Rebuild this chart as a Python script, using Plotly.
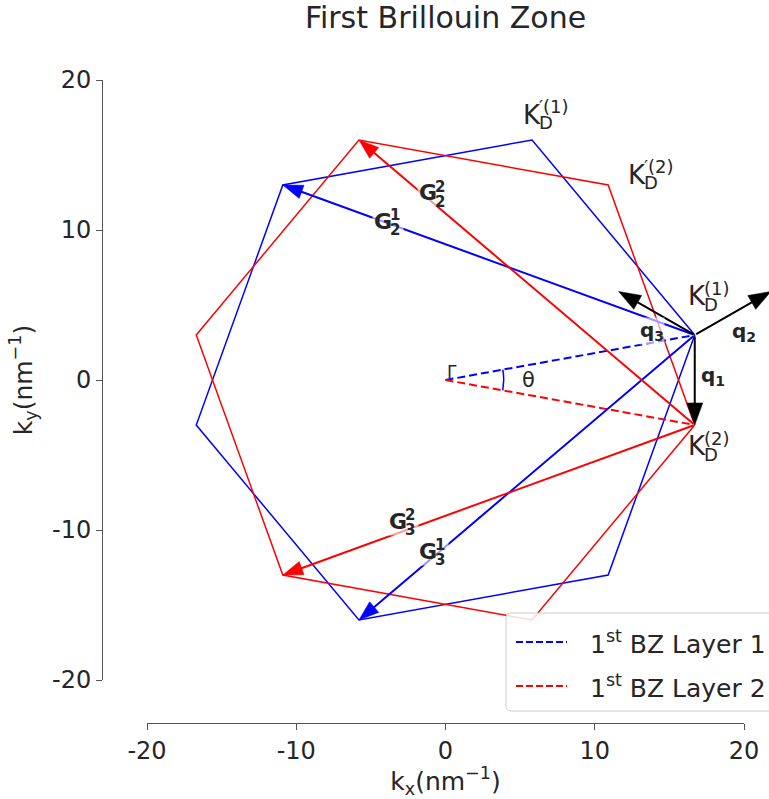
import plotly.graph_objects as go
import numpy as np

# ---- data ----
hex1_x = [16.7, 5.8, -10.9, -16.7, -5.8, 10.9, 16.7]
hex1_y = [3.0, 16.0, 13.0, -3.0, -16.0, -13.0, 3.0]
hex2_x = [16.7, 10.9, -5.8, -16.7, -10.9, 5.8, 16.7]
hex2_y = [-3.0, 13.0, 16.0, 3.0, -13.0, -16.0, -3.0]

gamma = (0.0, 0.0)
K1 = (16.7, 3.0)
K2 = (16.7, -3.0)

# arrows: (start, end, colour)
G_arrows = [
    ((16.7, 3.0), (-10.9, 13.0), "blue"),
    ((16.7, 3.0), (-5.8, -16.0), "blue"),
    ((16.7, -3.0), (-5.8, 16.0), "red"),
    ((16.7, -3.0), (-10.9, -13.0), "red"),
]
q_arrows = [
    ((16.7, 3.0), (16.7, -3.0), "black"),
    ((16.7, 3.0), (21.8, 5.9), "black"),
    ((16.7, 3.0), (11.6, 5.9), "black"),
]

theta_arc_r = 3.9
theta_arc_deg = [-10.2, -5, 0, 5, 10.2]

legend_names = ["1<sup>st</sup> BZ Layer 1", "1<sup>st</sup> BZ Layer 2"]

tick_vals = [-20, -10, 0, 10, 20]
tick_text = ["-20", "-10", "0", "10", "20"]

# labels with stacked sub/superscripts: (x, y, main, sub, sup)
K_labels = [
    (5.13, 17.67, "K", "D", "′(1)"),
    (12.16, 13.67, "K", "D", "′(2)"),
    (16.18, 5.57, "K", "D", "(1)"),
    (16.18, -4.40, "K", "D", "(2)"),
]
G_labels = [
    (-4.92, 10.57, "G", "2", "1"),
    (-1.91, 12.50, "G", "2", "2"),
    (-3.92, -9.43, "G", "3", "2"),
    (-1.91, -11.40, "G", "3", "1"),
]
q_labels = [
    (13.84, 3.27, "q", "3"),
    (19.97, 3.20, "q", "2"),
    (17.92, 0.27, "q", "1"),
]
greek_labels = [
    (0.44, 0.53, "Γ", 17),
    (5.56, 0.03, "θ", 21),
]

FONT = "DejaVu Sans"
TXT = "#262626"

W, H = 769, 799
L, R, T, B = 102, 0, 80, 76
pw = W - L - R
ph = H - T - B
XR = (-20, 20)
YR = (-20, 20)
PLOT_X = (147, 744)
PLOT_Y = (80, 680)


def px(xp):
    return (xp - L) / pw


def py(yp):
    return (H - B - yp) / ph


def xpix(x):
    return PLOT_X[0] + (x - XR[0]) / (XR[1] - XR[0]) * (PLOT_X[1] - PLOT_X[0])


def ypix(y):
    return PLOT_Y[1] - (y - YR[0]) / (YR[1] - YR[0]) * (PLOT_Y[1] - PLOT_Y[0])


fig = go.Figure()

fig.add_trace(go.Scatter(x=hex1_x, y=hex1_y, mode="lines",
                         line=dict(color="blue", width=1.5), showlegend=False, hoverinfo="skip"))
fig.add_trace(go.Scatter(x=hex2_x, y=hex2_y, mode="lines",
                         line=dict(color="red", width=1.5), showlegend=False, hoverinfo="skip"))

fig.add_trace(go.Scatter(x=[gamma[0], K1[0]], y=[gamma[1], K1[1]], mode="lines",
                         line=dict(color="blue", width=2, dash="8px,4px"), name=legend_names[0],
                         showlegend=False))
fig.add_trace(go.Scatter(x=[gamma[0], K2[0]], y=[gamma[1], K2[1]], mode="lines",
                         line=dict(color="red", width=2, dash="8px,4px"), name=legend_names[1],
                         showlegend=False))

ang = np.radians(theta_arc_deg)
fig.add_trace(go.Scatter(x=theta_arc_r * np.cos(ang), y=theta_arc_r * np.sin(ang), mode="lines",
                         line=dict(color="blue", width=1.5), showlegend=False, hoverinfo="skip"))

# arrows: shaft as annotation line (not clipped), head as a filled triangle path
for (s, e, col), hl, hw in [(a, 20, 7) for a in G_arrows] + [(a, 22, 8) for a in q_arrows]:
    fig.add_annotation(x=e[0], y=e[1], ax=s[0], ay=s[1], xref="x", yref="y", axref="x", ayref="y",
                       showarrow=True, text="", arrowhead=0, arrowwidth=2, arrowcolor=col,
                       standoff=hl - 6)
    sx, sy = xpix(s[0]), ypix(s[1])
    ex, ey = xpix(e[0]), ypix(e[1])
    d = np.array([ex - sx, ey - sy])
    d /= np.linalg.norm(d)
    n = np.array([-d[1], d[0]])
    bx, by = ex - d[0] * hl, ey - d[1] * hl
    p1 = (bx + n[0] * hw, by + n[1] * hw)
    p2 = (bx - n[0] * hw, by - n[1] * hw)
    path = (f"M{px(ex)},{py(ey)} L{px(p1[0])},{py(p1[1])} "
            f"L{px(p2[0])},{py(p2[1])} Z")
    fig.add_shape(type="path", xref="paper", yref="paper", path=path,
                  fillcolor=col, line=dict(color=col, width=0.5), layer="above")

# K labels
for x, y, m, sb, sp in K_labels:
    fig.add_annotation(x=x, y=y, xref="x", yref="y", text=m, showarrow=False,
                       xanchor="left", yanchor="middle", borderpad=0,
                       font=dict(family=FONT, size=26, color=TXT))
    fig.add_annotation(x=x, y=y, xref="x", yref="y", text=sp, showarrow=False,
                       xanchor="left", yanchor="middle", xshift=16, yshift=8, borderpad=0,
                       font=dict(family=FONT, size=18, color=TXT))
    fig.add_annotation(x=x, y=y, xref="x", yref="y", text=sb, showarrow=False,
                       xanchor="left", yanchor="middle", xshift=16, yshift=-8, borderpad=0,
                       font=dict(family=FONT, size=18, color=TXT))

# G labels (bold, with translucent box)
for x, y, m, sb, sp in G_labels:
    fig.add_annotation(x=x, y=y, xref="x", yref="y", text="<b>" + m + "</b>", showarrow=False,
                       xanchor="left", yanchor="middle", align="left", width=28, borderpad=1,
                       bgcolor="rgba(255,255,255,0.6)",
                       font=dict(family=FONT, size=22, color=TXT))
    fig.add_annotation(x=x, y=y, xref="x", yref="y", text="<b>" + sp + "</b>", showarrow=False,
                       xanchor="left", yanchor="middle", xshift=17, yshift=6, borderpad=0,
                       font=dict(family=FONT, size=15, color=TXT))
    fig.add_annotation(x=x, y=y, xref="x", yref="y", text="<b>" + sb + "</b>", showarrow=False,
                       xanchor="left", yanchor="middle", xshift=17, yshift=-9, borderpad=0,
                       font=dict(family=FONT, size=15, color=TXT))

for x, y, m, sb in q_labels:
    fig.add_annotation(x=x, y=y, xref="x", yref="y", text="<b>" + m + "<sub>" + sb + "</sub></b>",
                       showarrow=False, bgcolor="rgba(255,255,255,0.6)", borderpad=0,
                       font=dict(family=FONT, size=20, color=TXT))

for x, y, t, s in greek_labels:
    fig.add_annotation(x=x, y=y, xref="x", yref="y", text=t, showarrow=False,
                       font=dict(family=FONT, size=s, color=TXT))

# manual legend (the reference legend runs off the right edge)
bx0, bx1, by0, by1, rr = 506, 778, 613, 711, 5
fig.add_shape(type="path", xref="paper", yref="paper",
              path=(f"M{px(bx0 + rr)},{py(by0)} L{px(bx1)},{py(by0)} L{px(bx1)},{py(by1)} "
                    f"L{px(bx0 + rr)},{py(by1)} Q{px(bx0)},{py(by1)} {px(bx0)},{py(by1 - rr)} "
                    f"L{px(bx0)},{py(by0 + rr)} Q{px(bx0)},{py(by0)} {px(bx0 + rr)},{py(by0)} Z"),
              line=dict(color="#cccccc", width=1), fillcolor="rgba(255,255,255,0.85)", layer="above")
for (rowy, col, name) in [(642, "blue", legend_names[0]), (686, "red", legend_names[1])]:
    fig.add_shape(type="line", xref="paper", yref="paper", x0=px(516), x1=px(567),
                  y0=py(rowy), y1=py(rowy), line=dict(color=col, width=1.8, dash="7px,3px"),
                  layer="above")
    fig.add_annotation(x=px(589), y=py(rowy), xref="paper", yref="paper", text=name,
                       showarrow=False, xanchor="left", yanchor="middle", borderpad=0,
                       font=dict(family=FONT, size=25, color=TXT))

fig.update_layout(
    width=W, height=H,
    margin=dict(l=L, r=R, t=T, b=B, autoexpand=False),
    paper_bgcolor="white", plot_bgcolor="white",
    font=dict(family=FONT, color=TXT),
    showlegend=False,
    title=dict(text="First Brillouin Zone", x=445.5 / W, xref="container", xanchor="center",
               y=1 - 17 / H, yref="container", yanchor="middle",
               font=dict(family=FONT, size=30, color=TXT)),
    xaxis=dict(range=list(XR), domain=[px(PLOT_X[0]), px(PLOT_X[1])],
               anchor="free", position=0, showgrid=False, zeroline=False,
               showline=True, linecolor="#555555", linewidth=1,
               ticks="outside", ticklen=6, tickcolor="#555555",
               tickvals=tick_vals, ticktext=tick_text,
               tickfont=dict(family=FONT, size=24, color=TXT),
               title=dict(text="k<sub>x</sub>(nm<sup>−1</sup>)", standoff=10,
                          font=dict(family=FONT, size=25, color=TXT))),
    yaxis=dict(range=list(YR), domain=[py(PLOT_Y[1]), 1],
               anchor="free", position=0, showgrid=False, zeroline=False,
               showline=True, linecolor="#555555", linewidth=1,
               ticks="outside", ticklen=6, tickcolor="#555555",
               tickvals=tick_vals, ticktext=tick_text,
               tickfont=dict(family=FONT, size=24, color=TXT),
               title=dict(text="k<sub>y</sub>(nm<sup>−1</sup>)", standoff=11,
                          font=dict(family=FONT, size=25, color=TXT))),
)

fig.write_html("out.html")
